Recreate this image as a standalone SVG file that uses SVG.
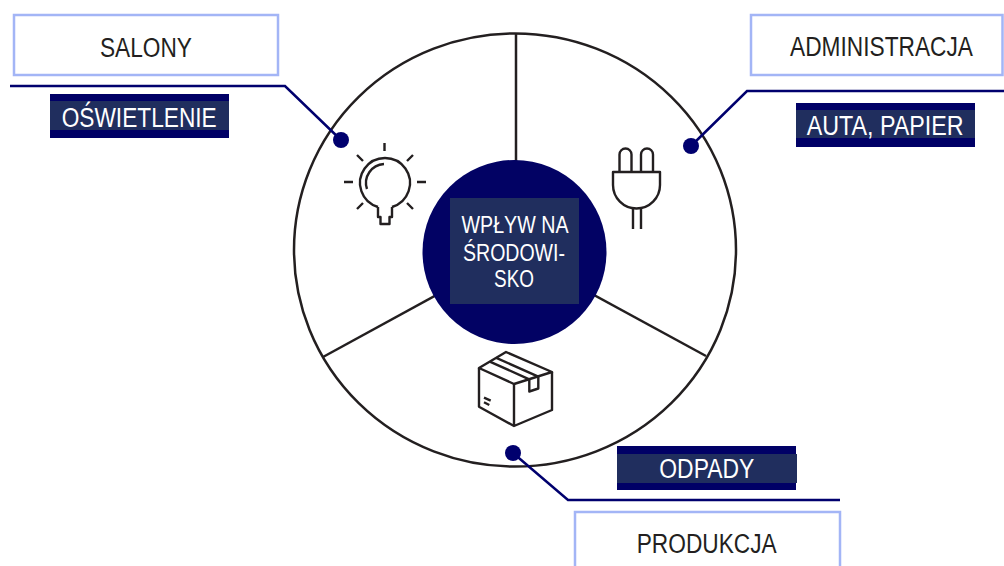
<svg xmlns="http://www.w3.org/2000/svg" width="1004" height="566" viewBox="0 0 1004 566">
<defs>
<style>
.box{fill:#ffffff;stroke:#a3b5f6;stroke-width:2.5}
.boxtxt{font-family:"Liberation Sans",Arial,sans-serif;font-size:27px;fill:#231f20}
.lblouter{fill:#000066}
.lblinner{fill:#202e5e}
.lbltxt{font-family:"Liberation Sans",Arial,sans-serif;font-size:27px;fill:#ffffff}
.ctxt{font-family:"Liberation Sans",Arial,sans-serif;font-size:23px;fill:#ffffff}
.conn{fill:none;stroke:#00006e;stroke-width:2.5}
.dot{fill:#00006e}
.wheel{fill:none;stroke:#231f20;stroke-width:2.5}
.icon{fill:none;stroke:#231f20;stroke-width:2.4;stroke-linejoin:round}
</style>
</defs>
<rect width="1004" height="566" fill="#ffffff"/>
<g id="wheel">
<ellipse class="wheel" cx="515" cy="250" rx="221" ry="216.5"/>
<line class="wheel" x1="516" y1="33" x2="516" y2="252"/>
<line class="wheel" x1="323" y1="357" x2="515" y2="252"/>
<line class="wheel" x1="706" y1="356" x2="515" y2="252"/>
</g>
<g id="connectors">
<path class="conn" d="M10,86 H285 L341,140"/>
<circle class="dot" cx="341" cy="140" r="8"/>
<path class="conn" d="M1004,91 H747 L691,146"/>
<circle class="dot" cx="691" cy="146" r="8"/>
<path class="conn" d="M513,453 L568,500 H840"/>
<circle class="dot" cx="513" cy="453" r="8"/>
</g>
<g id="center">
<circle cx="514.5" cy="252" r="92" fill="#020264"/>
<rect x="450" y="198" width="129" height="106" fill="#202e5e"/>
<text class="ctxt" x="461.5" y="232.5" textLength="107" lengthAdjust="spacingAndGlyphs">WPŁYW NA</text>
<text class="ctxt" x="463" y="261" textLength="102" lengthAdjust="spacingAndGlyphs">ŚRODOWI-</text>
<text class="ctxt" x="494" y="287" textLength="40" lengthAdjust="spacingAndGlyphs">SKO</text>
</g>
<g id="salony">
<rect class="box" x="14" y="15" width="264" height="60"/>
<text class="boxtxt" x="100" y="57" textLength="92" lengthAdjust="spacingAndGlyphs">SALONY</text>
</g>
<g id="administracja">
<rect class="box" x="751" y="15" width="251.5" height="60"/>
<text class="boxtxt" transform="translate(881.5,56) scale(0.841,1)" text-anchor="middle">ADMINISTRACJA</text>
</g>
<g id="produkcja">
<rect class="box" x="575" y="512" width="265" height="60"/>
<text class="boxtxt" x="636.7" y="552.5" textLength="140" lengthAdjust="spacingAndGlyphs">PRODUKCJA</text>
</g>
<g id="oswietlenie">
<rect class="lblouter" x="50" y="94" width="179" height="44"/>
<rect class="lblinner" x="50" y="101" width="179" height="29"/>
<text class="lbltxt" x="61.7" y="126.5" textLength="155" lengthAdjust="spacingAndGlyphs">OŚWIETLENIE</text>
</g>
<g id="auta-papier">
<rect class="lblouter" x="796" y="103" width="179" height="44"/>
<rect class="lblinner" x="796" y="110" width="179" height="28"/>
<text class="lbltxt" x="806.7" y="135" textLength="157" lengthAdjust="spacingAndGlyphs">AUTA, PAPIER</text>
</g>
<g id="odpady">
<rect class="lblouter" x="617" y="446" width="179" height="44"/>
<rect class="lblinner" x="617" y="454" width="180" height="29"/>
<text class="lbltxt" x="659.3" y="478.3" textLength="95" lengthAdjust="spacingAndGlyphs">ODPADY</text>
</g>
<g id="icon-bulb" class="icon">
<path d="M378,207 A25,25 0 1 1 392,207"/>
<path d="M378,207 V217 H380.5 V224 H389.5 V217 H392 V207"/>
<path d="M367,189 A19,19 0 0 1 384,164"/>
<path d="M384.5,143 V151 M344,182 H353 M417,182 H426 M357,155 L363,161 M407,161 L413,155 M357,209 L363,203 M407,203 L413,209"/>
</g>
<g id="icon-plug" class="icon">
<path d="M619.5,172 V154.5 A6,6 0 0 1 631.5,154.5 V172"/>
<path d="M641,172 V154.5 A6,6 0 0 1 653,154.5 V172"/>
<path d="M613,172 H660 V185 A23.5,23.5 0 0 1 613,185 Z"/>
<path d="M633,208 V229 M641,208 V229"/>
</g>
<g id="icon-box" class="icon">
<path d="M506,352 L479,368 L514,384 L552,372 Z"/>
<path d="M479,368 V406.7 L514,426 L552,410 V372 M514,384 V426"/>
<path d="M489.8,361.6 L529.3,379.3 V391.5 L538.3,388.5 V376.7 L496.3,357.8"/>
<path d="M484,397.7 L490.7,400.7 M484,402.3 L489.3,405"/>
</g>
</svg>
